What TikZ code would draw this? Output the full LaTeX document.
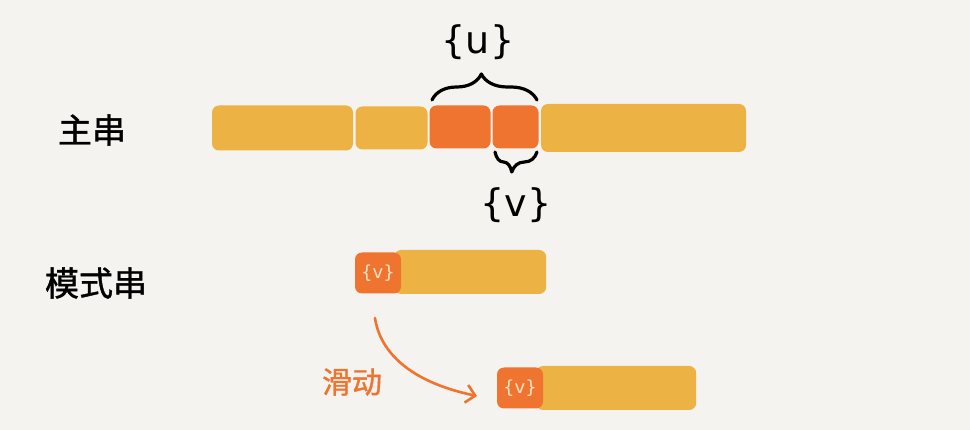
\documentclass[tikz,border=0pt]{standalone}
\usepackage{fontspec}
\newfontfamily\cjk[FakeBold=1.2]{Noto Sans CJK SC}
\newfontfamily\hand{DejaVu Sans}
\usetikzlibrary{arrows.meta,decorations.pathreplacing}
\definecolor{bg}{HTML}{F4F3EF}
\definecolor{yel}{HTML}{EDB244}
\definecolor{org}{HTML}{EE7430}
\definecolor{cream}{HTML}{F8E4C4}
\tikzset{
  seg/.style={fill=yel, rounded corners=7pt, inner sep=0pt, draw=none},
  hot/.style={fill=org, rounded corners=7pt, inner sep=0pt, draw=none},
  lbl/.style={font=\cjk\fontsize{34}{36}\selectfont, text=black, inner sep=0pt},
  brc/.style={decorate, line width=3.2pt, line cap=round, line join=round, draw=black},
  brtxt/.style={font=\hand\fontsize{38}{40}\selectfont, inner sep=0pt},
  vtxt/.style={font=\hand\fontsize{18}{20}\selectfont, text=cream, inner sep=0pt},
  slide/.style={draw=org, line width=2.6pt, line cap=round, -{Straight Barb[length=9pt,width=18pt,line width=2.6pt]}}
}
\begin{document}
\begin{tikzpicture}[x=1pt,y=-1pt]
\fill[bg] (0,0) rectangle (970,430);
\useasboundingbox (0,0) rectangle (970,430);
% labels
\node[lbl] (main) at (92,130) {主串};
\node[lbl] (pat) at (96,283) {模式串};
% main string
\node[seg, minimum width=141pt, minimum height=45pt] (s1) at (282.5,128) {};
\node[seg, minimum width=72pt, minimum height=43pt] (s2) at (391.5,128) {};
\node[hot, minimum width=61pt, minimum height=43pt] (s3) at (460,127) {};
\node[hot, minimum width=46pt, minimum height=43pt] (s4) at (515.5,127) {};
\node[seg, minimum width=205pt, minimum height=48pt] (s5) at (643.5,128) {};
% braces
\coordinate (ua) at (432,100);
\coordinate (ub) at (537,100);
\draw[brc, decoration={brace, amplitude=26pt, aspect=0.47}] (ua) -- (ub);
\node[brtxt] (u) at (478,42) {\{u\}};
\coordinate (va) at (537,152);
\coordinate (vb) at (495,152);
\draw[brc, decoration={brace, amplitude=20pt, aspect=0.6}] (va) -- (vb);
\node[brtxt] (v) at (516,205) {\{v\}};
% pattern 1
\node[seg, minimum width=152pt, minimum height=44pt, anchor=west] (p1b) at (394,272) {};
\node[hot, minimum width=46pt, minimum height=41pt] (p1a) at (378,273) {};
\node[vtxt] at (p1a) {\{v\}};
% pattern 2
\node[seg, minimum width=160pt, minimum height=44pt, anchor=west] (p2b) at (536,388) {};
\node[hot, minimum width=46pt, minimum height=41pt] (p2a) at (520,388) {};
\node[vtxt] at (p2a) {\{v\}};
% slide arrow
\coordinate (from) at (375,318);
\coordinate (to) at (477,396);
\draw[slide] (from) .. controls (380,352) and (410,382) .. (to);
\node[font=\cjk\fontsize{30}{32}\selectfont, text=org, inner sep=0pt] (sl) at (352,382) {滑动};
\end{tikzpicture}
\end{document}
